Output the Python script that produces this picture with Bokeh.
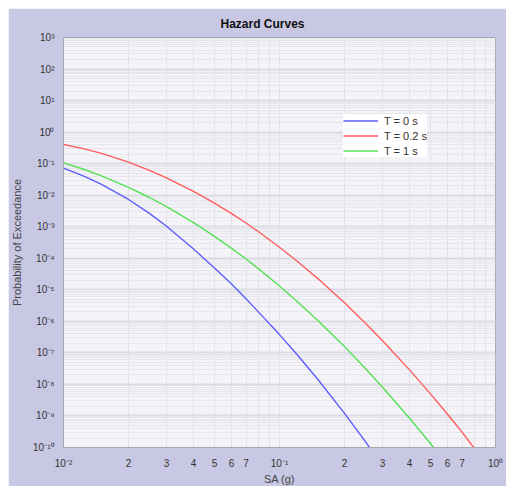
from bokeh.plotting import figure
from bokeh.models import FixedTicker, Legend, LegendItem
from bokeh.embed import file_html
from bokeh.resources import INLINE

# ---- data (SA in g, probability of exceedance) ----
sa_t0 = [0.01, 0.0125, 0.015, 0.02, 0.025, 0.03, 0.04, 0.05, 0.06, 0.07,
         0.08, 0.1, 0.12, 0.15, 0.2, 0.25, 0.261]
pe_t0 = [0.0718, 0.0397, 0.0221, 0.00731, 0.00264, 0.00104, 1.98e-4, 4.89e-5,
         1.52e-5, 5.22e-6, 1.96e-6, 3.80e-7, 9.2e-8, 1.48e-8, 1.21e-9,
         1.53e-10, 1.0e-10]

sa_t02 = [0.01, 0.0125, 0.015, 0.02, 0.025, 0.03, 0.04, 0.05, 0.06, 0.07,
          0.08, 0.1, 0.12, 0.15, 0.2, 0.25, 0.3, 0.4, 0.5, 0.6, 0.7, 0.793]
pe_t02 = [0.405, 0.293, 0.211, 0.1115, 0.0616, 0.0356, 0.0133, 0.00564,
          0.00261, 0.00131, 6.92e-4, 2.24e-4, 8.36e-5, 2.31e-5, 3.87e-6,
          8.75e-7, 2.44e-7, 2.89e-8, 5.02e-9, 1.13e-9, 3.06e-10, 1.0e-10]

sa_t1 = [0.01, 0.0125, 0.015, 0.02, 0.025, 0.03, 0.04, 0.05, 0.06, 0.07,
         0.08, 0.1, 0.12, 0.15, 0.2, 0.25, 0.3, 0.4, 0.5, 0.516]
pe_t1 = [0.1064, 0.0654, 0.0412, 0.0178, 0.00845, 0.00433, 0.001345, 4.95e-4,
         2.06e-4, 9.44e-5, 4.61e-5, 1.315e-5, 4.44e-6, 1.09e-6, 1.58e-7,
         3.19e-8, 8.17e-9, 8.49e-10, 1.34e-10, 1.0e-10]

series_labels = ["T = 0 s", "T = 0.2 s", "T = 1 s"]
series_colors = ["#5c5cff", "#ff5c5c", "#55e055"]

x_decades = [-2, -1, 0]
y_decades = list(range(-10, 4))
x_minor_labels = ["2", "3", "4", "5", "6", "7"]

SUP = str.maketrans("-0123456789", "⁻⁰¹²³⁴⁵⁶⁷⁸⁹")


def pow_label(e):
    return "10" + str(e).translate(SUP)


# tick positions
x_major = [float(f"1e{e}") for e in x_decades]
x_lab_ticks = list(x_major)
x_overrides = {v: pow_label(e) for v, e in zip(x_major, x_decades)}
x_grid_ticks = []
for e in x_decades[:-1]:
    for m in range(2, 10):
        v = float(f"{m}e{e}")
        x_grid_ticks.append(v)
        if str(m) in x_minor_labels:
            x_lab_ticks.append(v)
            x_overrides[v] = str(m)

y_major = [float(f"1e{e}") for e in y_decades]
y_overrides = {v: pow_label(e) for v, e in zip(y_major, y_decades)}
y_minor = [float(f"{m}e{e}") for e in y_decades[:-1] for m in range(2, 10)]

FONT = "Liberation Sans"

p = figure(frame_width=432, frame_height=410,
           x_axis_type="log", y_axis_type="log",
           x_range=(0.01, 1), y_range=(1e-10, 1e3),
           output_backend="svg", toolbar_location=None,
           min_border_left=52, min_border_right=14,
           min_border_top=29, min_border_bottom=37,
           margin=(8, 0, 0, 8))

p.border_fill_color = "#c8c8e4"
p.background_fill_color = "#f4f4f8"
p.outline_line_color = "#a8a8b0"

p.title.text = "Hazard Curves"
p.title.align = "left"
p.title.offset = 157
p.title.vertical_align = "top"
p.title.text_font = FONT
p.title.text_font_size = "12px"
p.title.text_font_style = "bold"
p.title.text_color = "#111111"

# axes
p.xaxis.ticker = FixedTicker(ticks=sorted(x_lab_ticks))
p.xaxis.major_label_overrides = x_overrides
p.yaxis.ticker = FixedTicker(ticks=y_major)
p.yaxis.major_label_overrides = y_overrides
for ax in (p.xaxis[0], p.yaxis[0]):
    ax.major_tick_line_color = None
    ax.minor_tick_line_color = None
    ax.axis_line_color = "#a8a8b0"
    ax.major_label_text_font = FONT
    ax.major_label_text_font_size = "10px"
    ax.major_label_text_color = "#333333"
    ax.axis_label_text_font = FONT
    ax.axis_label_text_font_size = "11px"
    ax.axis_label_text_font_style = "normal"
    ax.axis_label_text_color = "#444444"
p.xaxis.axis_label = "SA (g)"
p.yaxis.axis_label = "Probability of Exceedance"
p.xaxis.major_label_standoff = 4
p.xaxis.axis_label_standoff = 1
p.yaxis.major_label_standoff = 3
p.yaxis.axis_label_standoff = 7

# grids
p.xgrid.ticker = FixedTicker(ticks=x_major + x_grid_ticks)
p.xgrid.grid_line_color = "#e2e2e8"
p.ygrid.ticker = FixedTicker(ticks=y_major, minor_ticks=y_minor)
p.ygrid.grid_line_color = "#dcdce4"
p.ygrid.grid_line_width = 2
p.ygrid.minor_grid_line_color = "#e6e6ec"

r0 = p.line(sa_t0, pe_t0, line_color=series_colors[0], line_width=1.4)
r1 = p.line(sa_t02, pe_t02, line_color=series_colors[1], line_width=1.4)
r2 = p.line(sa_t1, pe_t1, line_color=series_colors[2], line_width=1.4)

legend = Legend(items=[LegendItem(label=series_labels[0], renderers=[r0]),
                       LegendItem(label=series_labels[1], renderers=[r1]),
                       LegendItem(label=series_labels[2], renderers=[r2])],
                location=(280, 290), padding=8, spacing=2, margin=0,
                glyph_width=35, glyph_height=13, label_height=13,
                label_standoff=6, label_text_font=FONT,
                label_text_font_size="11px", label_text_color="#333333",
                border_line_color=None, background_fill_color="white",
                background_fill_alpha=1.0)
p.add_layout(legend, "center")

open("out.html", "w").write(file_html(p, INLINE))
